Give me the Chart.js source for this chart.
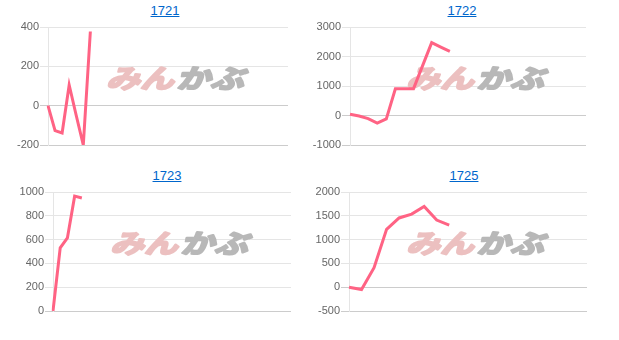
<!DOCTYPE html>
<html lang="ja">
<head>
<meta charset="UTF-8">
<meta name="viewport" content="width=device-width, initial-scale=1.0">
<title>1721 / 1722 / 1723 / 1725</title>
<script src="https://cdn.jsdelivr.net/npm/chart.js"></script>
<style>
    body {
        margin: 0;
        background-color: #fff;
        font-family: Arial, 'Liberation Sans', sans-serif;
    }
    .title {
        position: absolute;
        width: 100px;
        text-align: center;
        font-size: 13px;
    }
    .title a {
        color: #0066cc;
        text-decoration: underline;
    }
    .box {
        position: absolute;
    }
</style>
</head>
<body>
    <div class="title" style="left:115px; top:3px"><a href="#">1721</a></div>
    <div class="title" style="left:412px; top:3px"><a href="#">1722</a></div>
    <div class="title" style="left:117px; top:168px"><a href="#">1723</a></div>
    <div class="title" style="left:414px; top:168px"><a href="#">1725</a></div>

    <div class="box" style="left:8px; top:17px; width:280px; height:138px"><canvas id="c1721"></canvas></div>
    <div class="box" style="left:310px; top:17px; width:276px; height:138px"><canvas id="c1722"></canvas></div>
    <div class="box" style="left:13px; top:182px; width:278px; height:139px"><canvas id="c1723"></canvas></div>
    <div class="box" style="left:309px; top:182px; width:278px; height:139px"><canvas id="c1725"></canvas></div>

    <script>
        // x軸は非表示（期間ラベルの数だけ）
        const labels1721 = Array.from({ length: 35 }, (_, i) => i + 1);
        const labels1722 = Array.from({ length: 27 }, (_, i) => i + 1);
        const labels1723 = Array.from({ length: 34 }, (_, i) => i + 1);
        const labels1725 = Array.from({ length: 20 }, (_, i) => i + 1);

        const values1721 = [0, -127, -139, 105, -50, -200, 377];
        const values1722 = [40, -15, -105, -260, -115, 905, 905, 910, 1690, 2470, 2320, 2175];
        const values1723 = [0, 530, 615, 965, 950];
        const values1725 = [0, -50, 410, 1215, 1455, 1535, 1695, 1410, 1305];

        const ticks1721 = [-200, 0, 200, 400];
        const ticks1722 = [-1000, 0, 1000, 2000, 3000];
        const ticks1723 = [0, 200, 400, 600, 800, 1000];
        const ticks1725 = [-500, 0, 500, 1000, 1500, 2000];

        // みんかぶ ロゴ風の透かし
        const watermark = {
            id: 'watermark',
            beforeDatasetsDraw(chart) {
                const a = chart.chartArea;
                const ctx = chart.ctx;
                ctx.save();
                ctx.translate((a.left + a.right) / 2 + 10, (a.top + a.bottom) / 2 - 8);
                ctx.transform(1, 0, -0.3, 1, 0, 0);
                ctx.scale(1.3, 1);
                ctx.font = "bold 26px 'Noto Sans CJK JP'";
                ctx.textBaseline = 'middle';
                ctx.textAlign = 'left';
                ctx.lineWidth = 2;
                ctx.lineJoin = 'round';
                ctx.fillStyle = ctx.strokeStyle = '#ecc0c0';
                ctx.strokeText('みん', -53, 0);
                ctx.fillText('みん', -53, 0);
                ctx.fillStyle = ctx.strokeStyle = '#b8b8b8';
                ctx.strokeText('かぶ', 1, 0);
                ctx.fillText('かぶ', 1, 0);
                ctx.restore();
            }
        };

        function makeChart(id, labels, values, ticks) {
            const ctx = document.getElementById(id).getContext('2d');
            return new Chart(ctx, {
                type: 'line',
                data: {
                    labels: labels,
                    datasets: [{
                        data: values,
                        borderColor: 'rgb(255, 99, 132)',
                        backgroundColor: 'rgb(255, 99, 132)',
                        borderWidth: 3,
                        pointRadius: 0,
                        tension: 0,
                        fill: false
                    }]
                },
                options: {
                    responsive: true,
                    maintainAspectRatio: false,
                    animation: false,
                    layout: { padding: { top: 10, bottom: 10, left: 0, right: 0 } },
                    plugins: {
                        legend: { display: false },
                        tooltip: { enabled: false }
                    },
                    scales: {
                        x: { display: false },
                        y: {
                            min: ticks[0],
                            max: ticks[ticks.length - 1],
                            afterFit(scale) { scale.width = 40; },
                            ticks: {
                                stepSize: ticks[1] - ticks[0],
                                padding: 1,
                                color: '#666',
                                font: { family: "Arial, 'Liberation Sans', sans-serif", size: 11 },
                                callback: v => String(v)
                            },
                            grid: {
                                tickLength: 8,
                                color: c => (c.tick && (c.tick.value === 0 || c.index === 0)) ? 'rgba(0,0,0,0.2)' : 'rgba(0,0,0,0.1)'
                            },
                            border: { color: 'rgba(0,0,0,0.1)' }
                        }
                    }
                },
                plugins: [watermark]
            });
        }

        makeChart('c1721', labels1721, values1721, ticks1721);
        makeChart('c1722', labels1722, values1722, ticks1722);
        makeChart('c1723', labels1723, values1723, ticks1723);
        makeChart('c1725', labels1725, values1725, ticks1725);
    </script>
</body>
</html>
